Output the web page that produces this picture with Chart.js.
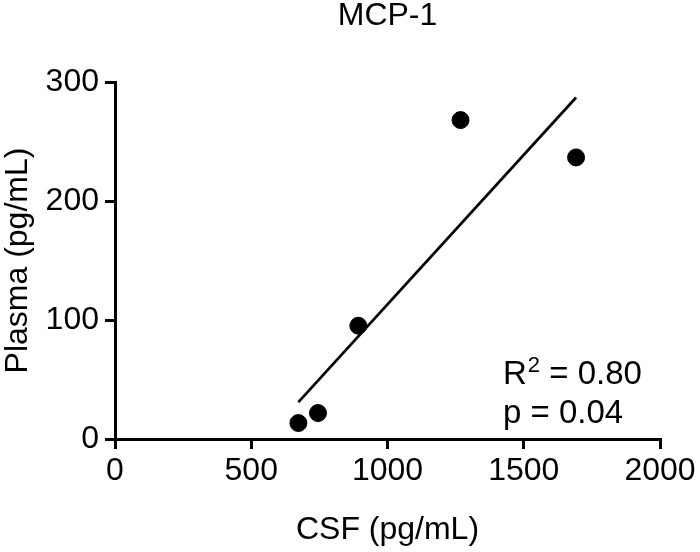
<!DOCTYPE html>
<html>
<head>
<meta charset="utf-8">
<title>MCP-1</title>
<script src="https://cdn.jsdelivr.net/npm/chart.js@4/dist/chart.umd.min.js"></script>
<style>
  html, body { margin: 0; padding: 0; background: #fff; }
  #wrap { width: 700px; height: 552px; }
</style>
</head>
<body>
<div id="wrap"><canvas id="mcpChart"></canvas></div>
<script>
// values
const csfValues = [673, 745, 893, 1268, 1692];
const plasmaValues = [13.4, 21.8, 95.2, 268, 236.6];
// regression line ends
const fitX = [673, 1692];
const fitY = [31, 287];
const xTicks = [0, 500, 1000, 1500, 2000];
const yTicks = [0, 100, 200, 300];
const statLines = ['R', '2', ' = 0.80', 'p = 0.04'];

const FONT = '"Liberation Sans", Arial, Helvetica, sans-serif';

const points = csfValues.map((x, i) => ({ x: x, y: plasmaValues[i] }));
const fitLine = fitX.map((x, i) => ({ x: x, y: fitY[i] }));

// R^2 / p text in the lower right of the plot
const statsText = {
  id: 'statsText',
  afterDraw(chart) {
    const ctx = chart.ctx;
    const area = chart.chartArea;
    const left = area.left + 388;
    const base1 = area.top + 302;
    const base2 = area.top + 341;
    ctx.save();
    ctx.fillStyle = '#000';
    ctx.textBaseline = 'alphabetic';
    ctx.textAlign = 'left';
    ctx.font = '33px ' + FONT;
    ctx.fillText(statLines[0], left, base1);
    let w = ctx.measureText(statLines[0]).width;
    ctx.font = '22px ' + FONT;
    ctx.fillText(statLines[1], left + w + 1, base1 - 12);
    w += ctx.measureText(statLines[1]).width + 1;
    ctx.font = '33px ' + FONT;
    ctx.fillText(statLines[2], left + w, base1);
    ctx.fillText(statLines[3], left, base2);
    ctx.restore();
  }
};

const axisLook = {
  grid: {
    display: true,
    drawOnChartArea: false,
    drawTicks: true,
    tickLength: 10,
    color: '#000',
    lineWidth: 3,
  },
  border: { display: true, color: '#000', width: 3 },
};

new Chart(document.getElementById('mcpChart').getContext('2d'), {
  type: 'scatter',
  data: {
    datasets: [
      {
        label: 'MCP-1',
        data: points,
        backgroundColor: '#000',
        borderColor: '#000',
        pointRadius: 8.5,
        pointHoverRadius: 8.5,
      },
      {
        label: 'fit',
        data: fitLine,
        showLine: true,
        borderColor: '#000',
        borderWidth: 2.7,
        pointRadius: 0,
        fill: false,
      },
    ],
  },
  options: {
    responsive: true,
    maintainAspectRatio: false,
    animation: false,
    layout: { padding: { top: 0, right: 40, bottom: 0, left: 0 } },
    plugins: {
      legend: { display: false },
      tooltip: { enabled: false },
      title: {
        display: true,
        text: 'MCP-1',
        fullSize: false,
        color: '#000',
        font: { family: FONT, size: 32, weight: 'normal', lineHeight: 1 },
        padding: { top: 0, bottom: 50 },
      },
    },
    scales: {
      x: {
        type: 'linear',
        min: 0,
        max: 2000,
        afterBuildTicks: (scale) => { scale.ticks = xTicks.map(v => ({ value: v })); },
        afterFit: (scale) => { scale.height = 113; },
        ...axisLook,
        ticks: {
          color: '#000',
          padding: 3,
          maxRotation: 0,
          callback: (v) => String(v),
          font: { family: FONT, size: 32, lineHeight: 1.2 },
        },
        title: {
          display: true,
          text: 'CSF (pg/mL)',
          color: '#000',
          font: { family: FONT, size: 32, lineHeight: 1 },
          padding: { top: 0, bottom: 6 },
        },
      },
      y: {
        type: 'linear',
        min: 0,
        max: 300,
        afterBuildTicks: (scale) => { scale.ticks = yTicks.map(v => ({ value: v })); },
        afterFit: (scale) => { scale.width = 115; },
        ...axisLook,
        ticks: {
          color: '#000',
          padding: 6,
          callback: (v) => String(v),
          font: { family: FONT, size: 32, lineHeight: 1.2 },
        },
        title: {
          display: true,
          text: 'Plasma (pg/mL)',
          color: '#000',
          font: { family: FONT, size: 32, lineHeight: 1 },
          padding: { top: 2, bottom: 0 },
        },
      },
    },
  },
  plugins: [statsText],
});
</script>
</body>
</html>
